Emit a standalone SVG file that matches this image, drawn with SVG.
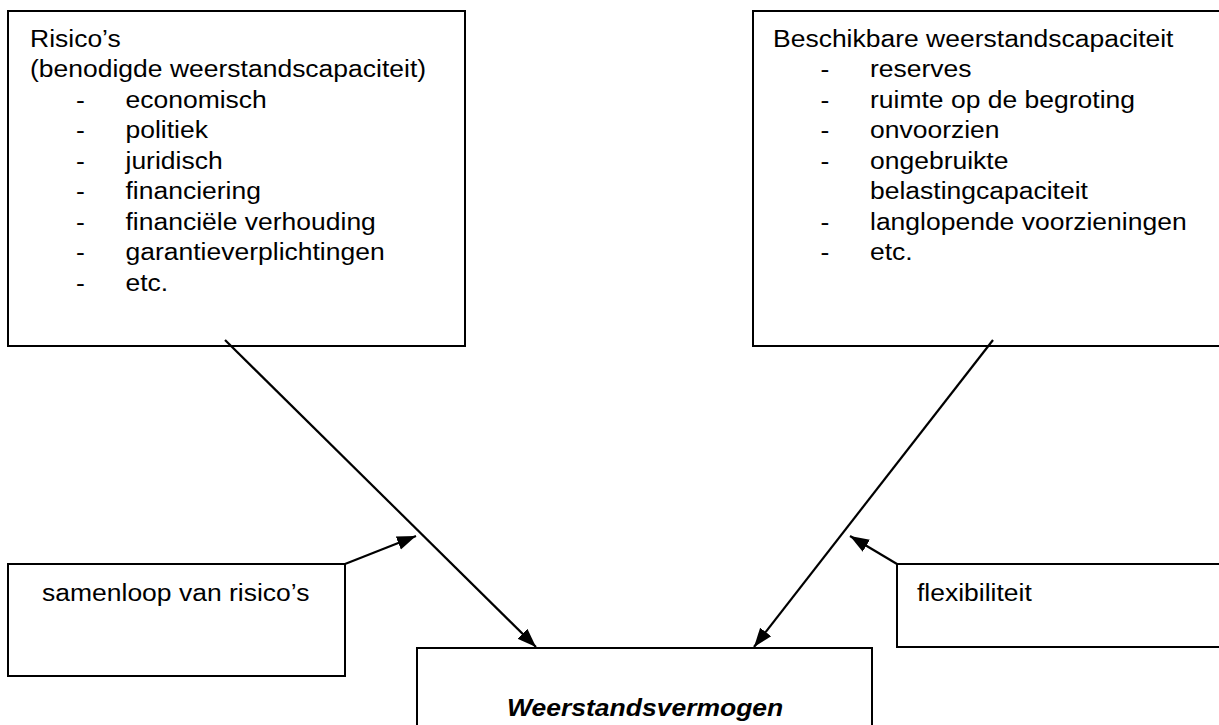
<svg xmlns="http://www.w3.org/2000/svg" width="1219" height="725" viewBox="0 0 1219 725">
<style>
.box{fill:#fff;stroke:#000;stroke-width:2}
.t{font-family:"Liberation Sans",Arial,sans-serif;font-size:26.5px;fill:#000}
.b{font-weight:bold;font-style:italic}
.c{stroke:#000;stroke-width:2.2;fill:none}
</style>
<defs>
<marker id="ah" markerUnits="userSpaceOnUse" markerWidth="20" markerHeight="16" refX="19" refY="8" orient="auto" viewBox="0 0 20 16">
<path d="M0,1 L19,8 L0,15 z" fill="#000"/>
</marker>
</defs>
<rect width="1219" height="725" fill="#fff"/>

<g id="risicos">
<rect class="box" x="8" y="11" width="457" height="335"/>
<text class="t" transform="translate(30 46.5) scale(1 0.93)">Risico’s</text>
<text class="t" transform="translate(30 77) scale(1 0.93)">(benodigde weerstandscapaciteit)</text>
<text class="t" transform="translate(76 107.5) scale(1 0.93)">-</text>
<text class="t" transform="translate(125.5 107.5) scale(1 0.93)">economisch</text>
<text class="t" transform="translate(76 138) scale(1 0.93)">-</text>
<text class="t" transform="translate(125.5 138) scale(1 0.93)">politiek</text>
<text class="t" transform="translate(76 168.5) scale(1 0.93)">-</text>
<text class="t" transform="translate(125.5 168.5) scale(1 0.93)">juridisch</text>
<text class="t" transform="translate(76 199) scale(1 0.93)">-</text>
<text class="t" transform="translate(125.5 199) scale(1 0.93)">financiering</text>
<text class="t" transform="translate(76 229.5) scale(1 0.93)">-</text>
<text class="t" transform="translate(125.5 229.5) scale(1 0.93)">financiële verhouding</text>
<text class="t" transform="translate(76 260) scale(1 0.93)">-</text>
<text class="t" transform="translate(125.5 260) scale(1 0.93)">garantieverplichtingen</text>
<text class="t" transform="translate(76 290.5) scale(1 0.93)">-</text>
<text class="t" transform="translate(125.5 290.5) scale(1 0.93)">etc.</text>
</g>

<g id="beschikbaar">
<rect class="box" x="753" y="11" width="480" height="335"/>
<text class="t" transform="translate(773 46.5) scale(1 0.93)">Beschikbare weerstandscapaciteit</text>
<text class="t" transform="translate(820.5 77) scale(1 0.93)">-</text>
<text class="t" transform="translate(870 77) scale(1 0.93)">reserves</text>
<text class="t" transform="translate(820.5 107.5) scale(1 0.93)">-</text>
<text class="t" transform="translate(870 107.5) scale(1 0.93)">ruimte op de begroting</text>
<text class="t" transform="translate(820.5 138) scale(1 0.93)">-</text>
<text class="t" transform="translate(870 138) scale(1 0.93)">onvoorzien</text>
<text class="t" transform="translate(820.5 168.5) scale(1 0.93)">-</text>
<text class="t" transform="translate(870 168.5) scale(1 0.93)">ongebruikte</text>
<text class="t" transform="translate(870 199) scale(1 0.93)">belastingcapaciteit</text>
<text class="t" transform="translate(820.5 229.5) scale(1 0.93)">-</text>
<text class="t" transform="translate(870 229.5) scale(1 0.93)">langlopende voorzieningen</text>
<text class="t" transform="translate(820.5 260) scale(1 0.93)">-</text>
<text class="t" transform="translate(870 260) scale(1 0.93)">etc.</text>
</g>

<g id="samenloop">
<rect class="box" x="8" y="564" width="337" height="112"/>
<text class="t" transform="translate(42 601) scale(1 0.93)">samenloop van risico’s</text>
</g>

<g id="flexibiliteit">
<rect class="box" x="897" y="564" width="336" height="83"/>
<text class="t" transform="translate(917 601) scale(1 0.93)">flexibiliteit</text>
</g>

<g id="weerstandsvermogen">
<rect class="box" x="417" y="648" width="455" height="90"/>
<text class="t b" transform="translate(507 716) scale(1 0.93)">Weerstandsvermogen</text>
</g>

<g id="connectors">
<line class="c" x1="225" y1="340" x2="536" y2="647" marker-end="url(#ah)"/>
<line class="c" x1="993" y1="340" x2="754" y2="647" marker-end="url(#ah)"/>
<line class="c" x1="345" y1="564" x2="416" y2="536" marker-end="url(#ah)"/>
<line class="c" x1="897" y1="564" x2="850" y2="536" marker-end="url(#ah)"/>
</g>
</svg>
